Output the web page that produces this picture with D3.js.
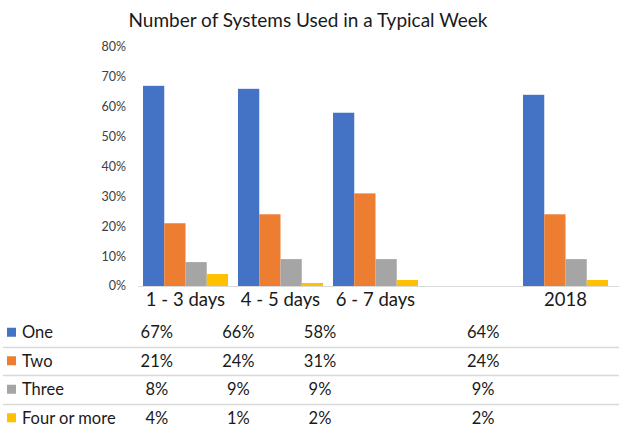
<!DOCTYPE html>
<html>
<head>
<meta charset="utf-8">
<script src="https://cdn.jsdelivr.net/npm/d3@7"></script>
<style>
  body { margin: 0; background: #fff; }
  svg { font-family: Lato, "Open Sans", sans-serif; }
</style>
</head>
<body>
<div class="chart-container"></div>
<script>
let categories = ['1 - 3 days', '4 - 5 days', '6 - 7 days', '', '2018']
let seriesNames = ['One', 'Two', 'Three', 'Four or more']
let one = [67, 66, 58, null, 64]
let two = [21, 24, 31, null, 24]
let three = [8, 9, 9, null, 9]
let fourOrMore = [4, 1, 2, null, 2]
let yTicks = [0, 10, 20, 30, 40, 50, 60, 70, 80]

let seriesValues = [one, two, three, fourOrMore]

let width = 619,
    height = 436

let color = d3.scaleOrdinal()
  .domain(seriesNames)
  .range([
    '#4472C4', // one
    '#ED7D31', // two
    '#A5A5A5', // three
    '#FFC000' // four or more
  ])

let svg = d3.select('.chart-container')
  .append('svg')
  .attr('width', width)
  .attr('height', height)

// title
svg.append('text')
  .attr('x', 308)
  .attr('y', 20)
  .attr('dy', '.35em')
  .attr('text-anchor', 'middle')
  .style('font-size', '19px')
  .style('fill', '#1a1a1a')
  .text('Number of Systems Used in a Typical Week')

let x0 = d3.scaleBand()
  .domain(categories)
  .range([138, 613])
  .paddingInner(10 / 95)
  .paddingOuter(5 / 95)

let x1 = d3.scaleBand()
  .domain(seriesNames)
  .range([0, x0.bandwidth()])

let y = d3.scaleLinear()
  .domain([0, 80])
  .range([286, 47])

// y tick labels
svg.append('g')
  .selectAll('text')
  .data(yTicks)
  .enter()
  .append('text')
  .attr('x', 126)
  .attr('y', d => y(d))
  .attr('dy', '.35em')
  .attr('text-anchor', 'end')
  .style('font-size', '12.5px')
  .style('fill', '#404040')
  .text(d => d + '%')

// bars
let groups = svg.append('g')
  .selectAll('g')
  .data(categories)
  .enter()
  .append('g')
  .attr('transform', d => `translate(${x0(d)},0)`)

groups.selectAll('rect')
  .data((d, i) => seriesNames.map((s, j) => ({ name: s, value: seriesValues[j][i] })))
  .enter()
  .filter(d => d.value != null)
  .append('rect')
  .attr('x', d => x1(d.name))
  .attr('y', d => y(d.value))
  .attr('width', x1.bandwidth())
  .attr('height', d => y(0) - y(d.value))
  .style('fill', d => color(d.name))

// baseline
svg.append('line')
  .attr('x1', 138)
  .attr('x2', width)
  .attr('y1', y(0) + 0.5)
  .attr('y2', y(0) + 0.5)
  .style('stroke', '#d9d9d9')
  .style('stroke-width', 1)

// category labels
svg.append('g')
  .selectAll('text')
  .data(categories)
  .enter()
  .append('text')
  .attr('x', d => x0(d) + x0.bandwidth() / 2)
  .attr('y', 300)
  .attr('dy', '.35em')
  .attr('text-anchor', 'middle')
  .style('font-size', '18.5px')
  .style('fill', '#1a1a1a')
  .text(d => d)

// data table
let col = d3.scaleBand()
  .domain(categories)
  .range([116, 524])

let row = d3.scaleBand()
  .domain(seriesNames)
  .range([318, 432])

let table = svg.append('g')

table.selectAll('line')
  .data(seriesNames.slice(1))
  .enter()
  .append('line')
  .attr('x1', 3)
  .attr('x2', width)
  .attr('y1', d => Math.round(row(d)) + 0.5)
  .attr('y2', d => Math.round(row(d)) + 0.5)
  .style('stroke', '#d9d9d9')
  .style('stroke-width', 1.5)

let rows = table.selectAll('g')
  .data(seriesNames)
  .enter()
  .append('g')
  .attr('transform', d => `translate(0,${row(d) + row.bandwidth() / 2})`)

rows.append('rect')
  .attr('x', 7)
  .attr('y', -4.5)
  .attr('width', 9)
  .attr('height', 9)
  .style('fill', d => color(d))

rows.append('text')
  .attr('x', 22)
  .attr('dy', '.35em')
  .style('font-size', '16.5px')
  .style('fill', '#1a1a1a')
  .text(d => d)

rows.selectAll('.cell')
  .data((d, j) => categories.map((c, i) => ({ cat: c, value: seriesValues[j][i] })))
  .enter()
  .filter(d => d.value != null)
  .append('text')
  .attr('class', 'cell')
  .attr('x', d => col(d.cat) + col.bandwidth() / 2)
  .attr('dy', '.35em')
  .attr('text-anchor', 'middle')
  .style('font-size', '16.5px')
  .style('fill', '#1a1a1a')
  .text(d => d.value + '%')
</script>
</body>
</html>
